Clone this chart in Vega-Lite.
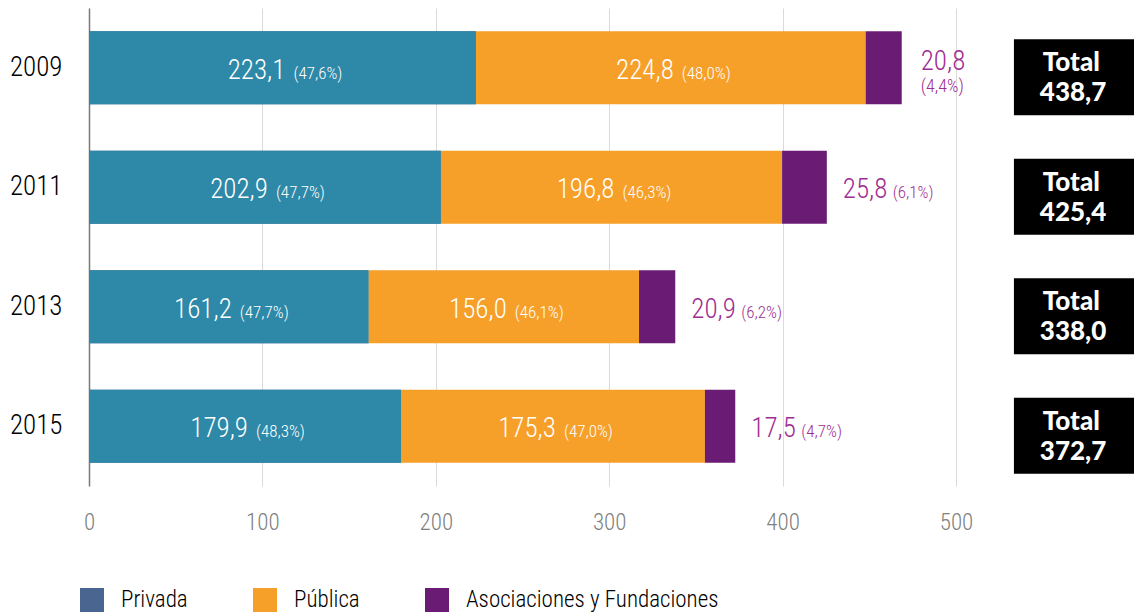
{
  "$schema": "https://vega.github.io/schema/vega-lite/v6.json",
  "width": 1045,
  "height": 478,
  "autosize": {"type": "none"},
  "padding": {"left": 89, "top": 8, "right": 0, "bottom": 129},
  "background": "white",
  "config": {"view": {"stroke": null}},
  "data": {
    "values": [
      {"year": "2009", "cat": "Privada", "k": 1, "value": 223.1, "label": "223,1", "pct": "(47,6%)", "total": "438,7"},
      {"year": "2009", "cat": "Pública", "k": 2, "value": 224.8, "label": "224,8", "pct": "(48,0%)", "total": "438,7"},
      {"year": "2009", "cat": "Asociaciones y Fundaciones", "k": 3, "value": 20.8, "label": "20,8", "pct": "(4,4%)", "total": "438,7"},
      {"year": "2011", "cat": "Privada", "k": 1, "value": 202.9, "label": "202,9", "pct": "(47,7%)", "total": "425,4"},
      {"year": "2011", "cat": "Pública", "k": 2, "value": 196.8, "label": "196,8", "pct": "(46,3%)", "total": "425,4"},
      {"year": "2011", "cat": "Asociaciones y Fundaciones", "k": 3, "value": 25.8, "label": "25,8", "pct": "(6,1%)", "total": "425,4"},
      {"year": "2013", "cat": "Privada", "k": 1, "value": 161.2, "label": "161,2", "pct": "(47,7%)", "total": "338,0"},
      {"year": "2013", "cat": "Pública", "k": 2, "value": 156.0, "label": "156,0", "pct": "(46,1%)", "total": "338,0"},
      {"year": "2013", "cat": "Asociaciones y Fundaciones", "k": 3, "value": 20.9, "label": "20,9", "pct": "(6,2%)", "total": "338,0"},
      {"year": "2015", "cat": "Privada", "k": 1, "value": 179.9, "label": "179,9", "pct": "(48,3%)", "total": "372,7"},
      {"year": "2015", "cat": "Pública", "k": 2, "value": 175.3, "label": "175,3", "pct": "(47,0%)", "total": "372,7"},
      {"year": "2015", "cat": "Asociaciones y Fundaciones", "k": 3, "value": 17.5, "label": "17,5", "pct": "(4,7%)", "total": "372,7"}
    ]
  },
  "transform": [
    {"stack": "value", "groupby": ["year"], "sort": [{"field": "k", "order": "ascending"}], "as": ["x0", "x1"]},
    {"calculate": "(datum.x0 + datum.x1) / 2", "as": "mid"}
  ],
  "encoding": {
    "y": {
      "field": "year",
      "type": "ordinal",
      "title": null,
      "scale": {"paddingInner": 0.39, "paddingOuter": 0.195},
      "axis": {
        "domain": true,
        "domainColor": "#7a7a7a",
        "domainWidth": 1.5,
        "ticks": false,
        "labelPadding": 27,
        "labelFont": "Roboto Condensed",
        "labelFontWeight": 300,
        "labelFontSize": 27,
        "labelColor": "#000000",
        "grid": false
      }
    }
  },
  "layer": [
    {
      "mark": {"type": "bar"},
      "encoding": {
        "x": {
          "field": "x0",
          "type": "quantitative",
          "title": null,
          "scale": {"domain": [0, 602.65], "nice": false, "zero": true},
          "axis": {
            "values": [0, 100, 200, 300, 400, 500],
            "grid": true,
            "gridColor": "#dadada",
            "gridWidth": 1,
            "domain": false,
            "ticks": false,
            "labelFlush": false,
            "labelPadding": 25,
            "labelFont": "Roboto Condensed",
            "labelFontWeight": 300,
            "labelFontSize": 23,
            "labelColor": "#808080"
          }
        },
        "x2": {"field": "x1"},
        "color": {
          "field": "cat",
          "type": "nominal",
          "scale": {
            "domain": ["Privada", "Pública", "Asociaciones y Fundaciones"],
            "range": ["#4a6690", "#f69f29", "#6a1c74"]
          },
          "legend": {
            "title": null,
            "orient": "none",
            "legendX": -9,
            "legendY": 580,
            "direction": "horizontal",
            "symbolType": "square",
            "symbolSize": 576,
            "symbolStrokeWidth": 0,
            "symbolOpacity": 1,
            "labelFont": "Roboto Condensed",
            "labelFontWeight": 300,
            "labelFontSize": 23,
            "labelColor": "#000000",
            "labelOffset": 17,
            "labelLimit": 0,
            "columnPadding": 65
          }
        }
      }
    },
    {
      "transform": [{"filter": "datum.k == 1"}],
      "mark": {"type": "bar", "color": "#2e88a7"},
      "encoding": {
        "x": {"field": "x0", "type": "quantitative"},
        "x2": {"field": "x1"}
      }
    },
    {
      "transform": [{"filter": "datum.k < 3"}],
      "mark": {"type": "text", "align": "right", "baseline": "alphabetic", "dx": 3, "dy": 11, "color": "white", "font": "Roboto Condensed", "fontWeight": 300, "fontSize": 27},
      "encoding": {
        "x": {"field": "mid", "type": "quantitative"},
        "text": {"field": "label"}
      }
    },
    {
      "transform": [{"filter": "datum.k < 3"}],
      "mark": {"type": "text", "align": "left", "baseline": "alphabetic", "dx": 11, "dy": 11, "color": "white", "font": "Roboto Condensed", "fontWeight": 300, "fontSize": 17},
      "encoding": {
        "x": {"field": "mid", "type": "quantitative"},
        "text": {"field": "pct"}
      }
    },
    {
      "transform": [{"filter": "datum.k == 3 && datum.year != '2009'"}],
      "mark": {"type": "text", "align": "left", "baseline": "alphabetic", "dx": 16, "dy": 11, "color": "#9e2d91", "font": "Roboto Condensed", "fontWeight": 300, "fontSize": 27},
      "encoding": {
        "x": {"field": "x1", "type": "quantitative"},
        "text": {"field": "label"}
      }
    },
    {
      "transform": [{"filter": "datum.k == 3 && datum.year != '2009'"}],
      "mark": {"type": "text", "align": "left", "baseline": "alphabetic", "dx": 66, "dy": 11, "color": "#9e2d91", "font": "Roboto Condensed", "fontWeight": 300, "fontSize": 17},
      "encoding": {
        "x": {"field": "x1", "type": "quantitative"},
        "text": {"field": "pct"}
      }
    },
    {
      "transform": [{"filter": "datum.k == 3 && datum.year == '2009'"}],
      "mark": {"type": "text", "align": "left", "baseline": "alphabetic", "dx": 19, "dy": 2, "color": "#9e2d91", "font": "Roboto Condensed", "fontWeight": 300, "fontSize": 27},
      "encoding": {
        "x": {"field": "x1", "type": "quantitative"},
        "text": {"field": "label"}
      }
    },
    {
      "transform": [{"filter": "datum.k == 3 && datum.year == '2009'"}],
      "mark": {"type": "text", "align": "left", "baseline": "alphabetic", "dx": 19, "dy": 24, "color": "#9e2d91", "font": "Roboto Condensed", "fontWeight": 300, "fontSize": 18},
      "encoding": {
        "x": {"field": "x1", "type": "quantitative"},
        "text": {"field": "pct"}
      }
    },
    {
      "transform": [{"filter": "datum.k == 1"}],
      "mark": {"type": "bar", "color": "black", "height": 76, "yOffset": 9.5},
      "encoding": {
        "x": {"datum": 533.4},
        "x2": {"datum": 603}
      }
    },
    {
      "transform": [{"filter": "datum.k == 1"}],
      "mark": {"type": "text", "text": "Total", "align": "center", "baseline": "alphabetic", "dy": 3.5, "color": "white", "font": "Lato", "fontWeight": 900, "fontSize": 26},
      "encoding": {
        "x": {"datum": 566.5}
      }
    },
    {
      "transform": [{"filter": "datum.k == 1"}],
      "mark": {"type": "text", "align": "center", "baseline": "alphabetic", "dy": 33.5, "color": "white", "font": "Lato", "fontWeight": 900, "fontSize": 26},
      "encoding": {
        "x": {"datum": 567.5},
        "text": {"field": "total"}
      }
    }
  ]
}
